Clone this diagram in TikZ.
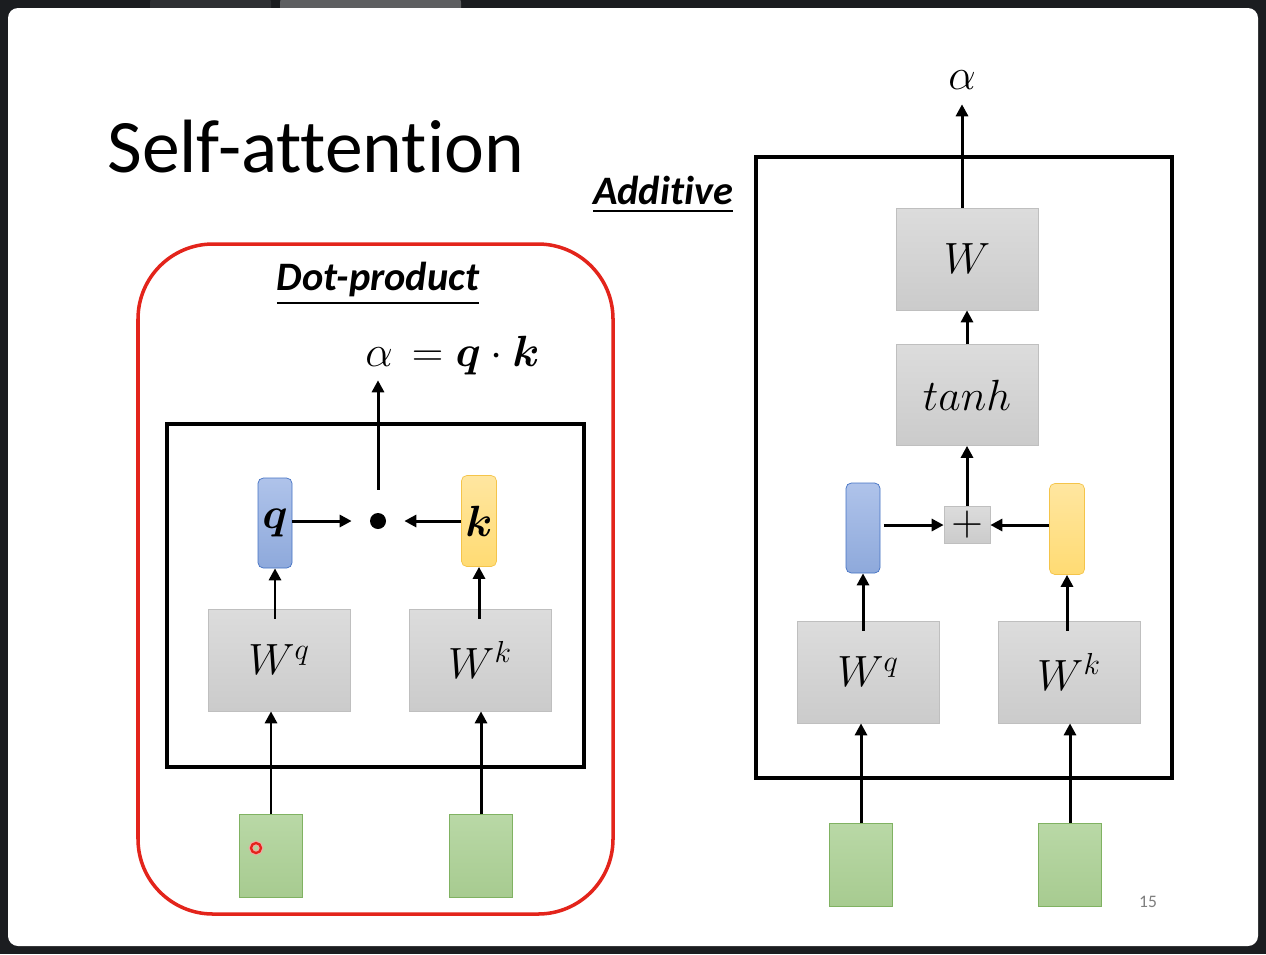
\documentclass[tikz,border=0pt]{standalone}
\usepackage{amsmath}
\usepackage{fontspec}
\setmainfont[Ligatures=NoCommon]{Carlito}
\definecolor{SlideFrame}{HTML}{1B1D20}
\definecolor{TabDark}{HTML}{2E3033}
\definecolor{TabLight}{HTML}{5E5F61}
\definecolor{AttnRed}{HTML}{E3241B}
\definecolor{BoxGrayTop}{HTML}{DCDCDC}
\definecolor{BoxGrayBot}{HTML}{CBCBCB}
\definecolor{BoxGrayLine}{HTML}{BFBFBF}
\definecolor{QBlueTop}{HTML}{AFC3EA}
\definecolor{QBlueBot}{HTML}{8EA9DB}
\definecolor{QBlueLine}{HTML}{4472C4}
\definecolor{KYellowTop}{HTML}{FFE6A0}
\definecolor{KYellowBot}{HTML}{FFDB73}
\definecolor{KYellowLine}{HTML}{F4C44A}
\definecolor{InGreenTop}{HTML}{B9D8A6}
\definecolor{InGreenBot}{HTML}{A7CB90}
\definecolor{InGreenLine}{HTML}{80B262}
\definecolor{PageGray}{HTML}{7F7F7F}
\usepackage{tikz}
\usetikzlibrary{arrows.meta, positioning}
\tikzset{
  % Box styles
  weightbox/.style={rectangle, draw=BoxGrayLine, top color=BoxGrayTop, bottom color=BoxGrayBot, minimum width=2.84cm, minimum height=2.04cm, inner sep=0pt, font=\fontsize{25}{29}\selectfont},
  querybox/.style={rectangle, rounded corners=3pt, draw=QBlueLine, top color=QBlueTop, bottom color=QBlueBot, minimum width=0.68cm, minimum height=1.8cm, inner sep=0pt, font=\fontsize{25}{29}\selectfont},
  keybox/.style={rectangle, rounded corners=3pt, draw=KYellowLine, top color=KYellowTop, bottom color=KYellowBot, minimum width=0.7cm, minimum height=1.82cm, inner sep=0pt, font=\fontsize{25}{29}\selectfont},
  inputbox/.style={rectangle, draw=InGreenLine, top color=InGreenTop, bottom color=InGreenBot, minimum width=1.26cm, minimum height=1.66cm, inner sep=0pt},
  sumbox/.style={rectangle, draw=BoxGrayLine, top color=BoxGrayTop, bottom color=BoxGrayBot, minimum width=0.92cm, minimum height=0.74cm, inner sep=0pt, font=\fontsize{25}{29}\selectfont},
  panelframe/.style={draw=black, line width=2.3pt},
  % Text styles
  headlabel/.style={font=\fontsize{23}{27}\selectfont\bfseries\itshape, inner sep=0pt},
  outlabel/.style={font=\fontsize{25}{29}\selectfont, inner sep=2pt},
  % Arrow styles
  arrow/.style={-{Triangle[length=0.24cm, width=0.24cm]}, line width=1.7pt, black}
}

\begin{document}
\begin{tikzpicture}[x=0.02cm, y=-0.02cm]
  \useasboundingbox (0,0) rectangle (1266,954);

  % Screen around the slide
  \fill[SlideFrame] (0,0) rectangle (1266,954);
  \fill[TabDark, rounded corners=0.25cm] (150,-10) rectangle (271,30);
  \fill[TabLight, rounded corners=0.25cm] (280,-10) rectangle (461,30);
  \fill[white, rounded corners=0.2cm] (8,8) rectangle (1258,946);

  % Title
  \node[font=\fontsize{43}{47}\selectfont, anchor=base west, inner sep=0pt] (title) at (107,172) {Self-attention};

  % Dot-product
  \draw[AttnRed, line width=2pt, rounded corners=1.5cm] (138,244) rectangle (613,914);
  \node[headlabel] (dotname) at (378,284) {\underline{Dot-product}};
  \draw[panelframe] (167,424) rectangle (584,767);

  \node[inputbox] (in1L) at (271,856) {};
  \node[inputbox] (in2L) at (481,856) {};
  \node[weightbox] (WqL) at (279,660) {$W^q$};
  \node[weightbox] (WkL) at (480,660) {$W^k$};
  \node[querybox] (qL) at (275,523) {$\boldsymbol{q}$};
  \node[keybox] (kL) at (479,521) {$\boldsymbol{k}$};
  \node[circle, fill=black, minimum size=0.32cm, inner sep=0pt] (dotL) at (378,521) {};
  \node[outlabel] (alphaL) at (379,357) {$\alpha$};
  \node[outlabel, inner sep=0pt, anchor=base west] (eqL) at ([xshift=0.3cm]alphaL.base east) {$=\boldsymbol{q}\cdot\boldsymbol{k}$};

  \draw[arrow] (in1L.north) -- (in1L.north |- WqL.south);
  \draw[arrow] (in2L.north) -- (in2L.north |- WkL.south);
  \draw[arrow, shorten <=-0.2cm] (WqL.north -| qL) -- (qL.south);
  \draw[arrow, shorten <=-0.2cm] (WkL.north -| kL) -- (kL.south);
  \draw[arrow, shorten >=0.36cm] (qL.east |- dotL) -- (dotL);
  \draw[arrow, shorten >=0.36cm] (kL.west |- dotL) -- (dotL);
  \draw[arrow, shorten <=0.46cm, shorten >=0.2cm] (dotL) -- (dotL |- alphaL.south);

  % laser pointer
  \draw[AttnRed!40, line width=2.5pt] (256,848) circle (5);
  \draw[AttnRed, line width=1.3pt] (256,848) circle (5);

  % Additive
  \node[headlabel] (addname) at (663,195) {\underline{Additive}};
  \draw[panelframe] (756,157) rectangle (1172,778);

  \node[inputbox] (in1R) at (861,865) {};
  \node[inputbox] (in2R) at (1070,865) {};
  \node[weightbox] (WqR) at (868,672) {$W^q$};
  \node[weightbox] (WkR) at (1069,672) {$W^k$};
  \node[querybox] (qR) at (863,528) {};
  \node[keybox] (kR) at (1067,529) {};
  \node[sumbox] (plusR) at (967,525) {$+$};
  \node[weightbox, minimum height=2.02cm] (tanhR) at (967,395) {$tanh$};
  \node[weightbox] (WR) at (967,259) {$W$};
  \node[outlabel] (alphaR) at (962,80) {$\alpha$};

  \draw[arrow] (in1R.north) -- (in1R.north |- WqR.south);
  \draw[arrow] (in2R.north) -- (in2R.north |- WkR.south);
  \draw[arrow, shorten <=-0.2cm] (WqR.north -| qR) -- (qR.south);
  \draw[arrow, shorten <=-0.2cm] (WkR.north -| kR) -- (kR.south);
  \draw[arrow, shorten <=2pt] (qR.east |- plusR) -- (plusR.west);
  \draw[arrow] (kR.west |- plusR) -- (plusR.east);
  \draw[arrow] (plusR) -- (tanhR);
  \draw[arrow] (tanhR) -- (WR);
  \draw[arrow, shorten >=0.22cm] (WR.north -| alphaR) -- (alphaR.south);

  % Page number
  \node[font=\fontsize{10}{12}\selectfont, text=PageGray] (pagenum) at (1148,902) {15};
\end{tikzpicture}
\end{document}
